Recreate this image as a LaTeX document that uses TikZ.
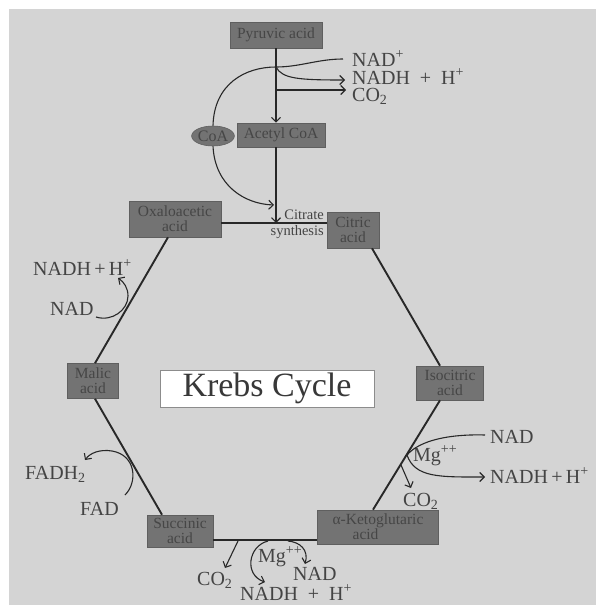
\documentclass[tikz,border=0pt]{standalone}
\usepackage{fontspec}
\setmainfont{Liberation Serif}
\usetikzlibrary{arrows.meta,shapes.geometric}
\definecolor{bg}{RGB}{212,212,212}
\definecolor{boxfill}{RGB}{115,115,115}
\definecolor{boxedge}{RGB}{95,95,95}
\definecolor{boxtext}{RGB}{70,70,70}
\definecolor{ink}{RGB}{40,40,40}
\definecolor{lbl}{RGB}{68,68,68}
\begin{document}
\begin{tikzpicture}[x=1pt,y=-1pt,
  acid/.style={draw=boxedge, fill=boxfill, text=boxtext, inner sep=0pt, align=center,
    font=\fontsize{15.5}{15}\selectfont, line width=0.6pt},
  lab/.style={text=lbl, font=\fontsize{20}{22}\selectfont, inner sep=0pt},
  small/.style={text=lbl, font=\fontsize{14.5}{16}\selectfont, inner sep=0pt},
  cyc/.style={draw=ink, line width=1.9pt},
  flow/.style={draw=ink, line width=1.1pt},
  arr/.style={-{Straight Barb[length=4.5pt,width=9pt,line width=1.1pt]}}]
\useasboundingbox (0,0) rectangle (596,605);
\fill[bg] (9,9) rectangle (596,605);

% acid boxes
\node[acid, minimum width=92pt, minimum height=26pt] (pyr) at (276,35) {Pyruvic acid};
\node[acid, minimum width=88pt, minimum height=24pt] (acc) at (281,135) {Acetyl CoA};
\node[ellipse, draw=boxedge, fill=boxfill, text=boxtext, inner sep=0pt, line width=0.6pt,
  minimum width=40pt, minimum height=20pt, font=\fontsize{16}{14}\selectfont] (coa) at (213,136) {CoA};
\node[acid, minimum width=92pt, minimum height=36pt] (oxa) at (175,219) {Oxaloacetic\\acid};
\node[acid, minimum width=52pt, minimum height=36pt] (cit) at (353,230) {Citric\\acid};
\node[acid, minimum width=67pt, minimum height=34pt] (iso) at (450,383) {Isocitric\\acid};
\node[acid, minimum width=121pt, minimum height=34pt, align=left] (akg) at (378,527) {α-Ketoglutaric\\\hspace{20pt}acid};
\node[acid, minimum width=66pt, minimum height=32pt] (suc) at (180,531) {Succinic\\acid};
\node[acid, minimum width=51pt, minimum height=35pt] (mal) at (93,381) {Malic\\acid};
\node[draw=black!45, fill=white, line width=0.8pt, minimum width=214pt, minimum height=37pt, inner sep=0pt,
  text=black!78, font=\fontsize{34}{36}\selectfont] (krebs) at (267,388.5) {Krebs Cycle};

% cycle lines
\coordinate (syn) at (276,223);
\draw[cyc] ([yshift=-4pt]oxa.east) -- ([yshift=-4pt]oxa.east -| cit.west);
\draw[cyc] ([xshift=19pt]cit.south) -- ([xshift=-10pt]iso.north);
\draw[cyc] ([xshift=-10pt]iso.south) -- ([xshift=-5pt]akg.north);
\draw[cyc] ([yshift=-9pt]suc.east) -- ([yshift=-9pt]suc.east -| akg.west);
\draw[cyc] ([xshift=-18pt]suc.north) -- ([xshift=2pt]mal.south);
\draw[cyc] ([xshift=2pt]mal.north) -- ([xshift=-7pt]oxa.south);

% top: pyruvate -> acetyl CoA
\node[lab, anchor=base west] (nadp) at (352,66) {NAD\textsuperscript{+}};
\node[lab, anchor=base west] (nadh1) at (352,84) {NADH~~+~~H\textsuperscript{+}};
\node[lab, anchor=base west] (co2a) at (352,101) {CO\textsubscript{2}};
\coordinate (j1) at (276,67);
\coordinate (e1) at (343,59);
\coordinate (e2) at (345,80);
\coordinate (j3) at (276,90);
\coordinate (e3) at (346,90);
\coordinate (e4) at (274,205);
\draw[flow, line width=1.4pt, arr] (pyr.south) -- (pyr.south |- acc.north);
\draw[flow, line width=1.4pt, arr] (acc.south -| pyr.south) -- (syn);
\draw[flow] (coa.north) .. controls (214,84) and (245,67) .. (j1) .. controls (300,67) and (318,59) .. (e1);
\draw[flow, arr] (j1) .. controls (282,79) and (300,80) .. (e2);
\draw[flow, arr] (j3) -- (e3);
\draw[flow, arr] (coa.south) .. controls (215,186) and (245,204) .. (e4);
\node[small, anchor=east] (cit1) at (324,215) {Citrate};
\node[small, anchor=east] (cit2) at (324,232) {synthesis};

% malate -> oxaloacetate
\node[lab, anchor=base west] (nadh2) at (33,275) {NADH\,+\,H\textsuperscript{+}};
\node[lab, anchor=base west] (nad2) at (50,315) {NAD};
\coordinate (m1) at (96,317);
\coordinate (m2) at (118,278);
\draw[flow, arr] (m1) .. controls (112,322) and (128,310) .. (128,296) .. controls (128,288) and (124,282) .. (m2);

% succinate -> malate
\node[lab, anchor=base west] (fadh) at (25,479) {FADH\textsubscript{2}};
\node[lab, anchor=base west] (fad) at (80,515) {FAD};
\coordinate (f1) at (125,495);
\coordinate (f2) at (85,460);
\draw[flow, arr] (f1) .. controls (138,482) and (136,455) .. (112,451) .. controls (100,449) and (90,453) .. (f2);

% isocitrate -> alpha-ketoglutarate
\node[lab, anchor=base west] (nad3) at (490,443) {NAD};
\node[lab, anchor=base west] (nadh3) at (490,483) {NADH\,+\,H\textsuperscript{+}};
\node[lab, anchor=base west] (mg1) at (413,461) {Mg\textsuperscript{++}};
\node[lab, anchor=base west] (co2b) at (403,506) {CO\textsubscript{2}};
\coordinate (i1) at (485,435);
\coordinate (i2) at (407,455);
\coordinate (i3) at (485,477);
\coordinate (i4) at (401,465);
\coordinate (i5) at (411,488);
\draw[flow] (i1) .. controls (450,434) and (420,440) .. (i2);
\draw[flow, arr] (i2) .. controls (415,478) and (440,477) .. (i3);
\draw[flow, arr] (i4) -- (i5);

% alpha-ketoglutarate -> succinate
\node[lab, anchor=base west] (co2c) at (197,585) {CO\textsubscript{2}};
\node[lab, anchor=base west] (mg2) at (258,562) {Mg\textsuperscript{++}};
\node[lab, anchor=base west] (nad4) at (293,580) {NAD};
\node[lab, anchor=base west] (nadh4) at (240,600) {NADH~~+~~H\textsuperscript{+}};
\coordinate (b1) at (238,541);
\coordinate (b2) at (225,568);
\coordinate (b3) at (268,541);
\coordinate (b4) at (265,582);
\coordinate (b5) at (288,541);
\coordinate (b6) at (305,564);
\draw[flow, arr] (b1) -- (b2);
\draw[flow, arr] (b3) .. controls (248,546) and (244,575) .. (b4);
\draw[flow, arr] (b5) .. controls (300,542) and (309,550) .. (b6);
\end{tikzpicture}
\end{document}
